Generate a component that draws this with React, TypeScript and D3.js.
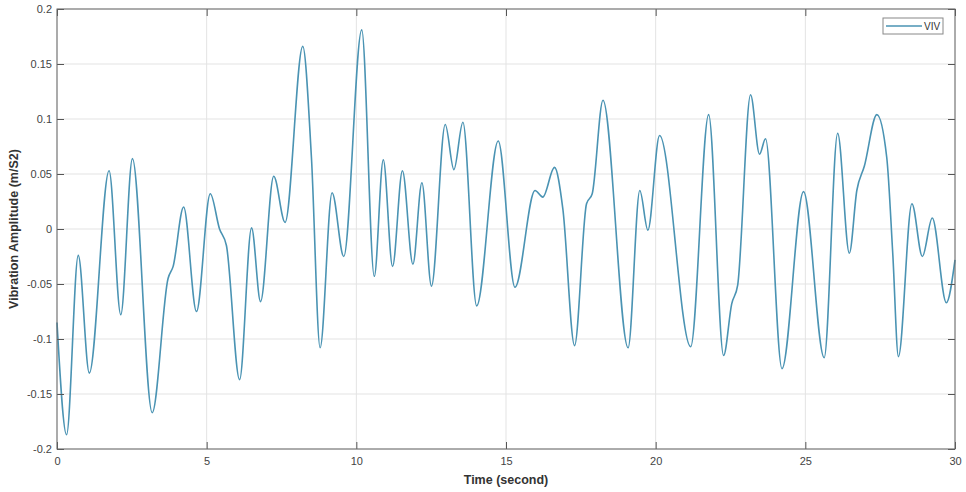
// VIV vibration amplitude over time, MATLAB-style line plot
import React, { useEffect, useRef } from 'react';
import * as d3 from 'd3';

const timeValues = [
  0.0, 0.32, 0.71, 1.08, 1.74, 2.13, 2.52, 3.18, 3.71, 3.88, 4.23, 4.66, 5.12, 5.43, 5.66,
  6.1, 6.5, 6.8, 7.24, 7.62, 8.21, 8.5, 8.79, 9.19, 9.58, 10.18, 10.6, 10.9, 11.21, 11.54,
  11.89, 12.19, 12.51, 12.97, 13.26, 13.56, 14.02, 14.74, 15.3, 15.97, 16.23, 16.62, 16.9,
  17.29, 17.69, 17.88, 18.24, 19.08, 19.47, 19.74, 20.13, 21.17, 21.77, 22.27, 22.54, 22.74,
  23.17, 23.47, 23.67, 24.22, 24.94, 25.63, 26.08, 26.47, 26.72, 26.97, 27.39, 27.72, 27.92,
  28.11, 28.56, 28.91, 29.24, 29.71, 30.0,
];

const amplitudeValues = [
  -0.085, -0.187, -0.024, -0.131, 0.053, -0.078, 0.064, -0.167, -0.045, -0.034, 0.02, -0.075,
  0.032, 0.0, -0.015, -0.137, 0.001, -0.066, 0.048, 0.006, 0.166, 0.065, -0.108, 0.033, -0.025,
  0.181, -0.043, 0.063, -0.034, 0.053, -0.032, 0.042, -0.052, 0.095, 0.054, 0.097, -0.07, 0.08,
  -0.053, 0.035, 0.029, 0.056, 0.018, -0.106, 0.023, 0.032, 0.117, -0.108, 0.035, -0.001, 0.085,
  -0.107, 0.104, -0.115, -0.068, -0.051, 0.122, 0.068, 0.082, -0.127, 0.034, -0.117, 0.087,
  -0.022, 0.035, 0.057, 0.104, 0.065, -0.022, -0.116, 0.023, -0.025, 0.01, -0.067, -0.028,
];

const xTicks = [0, 5, 10, 15, 20, 25, 30];
const xTickLabels = ['0', '5', '10', '15', '20', '25', '30'];
const yTicks = [-0.2, -0.15, -0.1, -0.05, 0, 0.05, 0.1, 0.15, 0.2];
const yTickLabels = ['-0.2', '-0.15', '-0.1', '-0.05', '0', '0.05', '0.1', '0.15', '0.2'];
const seriesName = 'VIV';

const App: React.FC = () => {
  const svgRef = useRef<SVGSVGElement>(null);

  useEffect(() => {
    const svg = d3.select(svgRef.current);
    svg.selectAll('*').remove();

    const width = 966;
    const height = 492;
    const margin = { top: 9, right: 11, bottom: 43, left: 57 };
    const font = 'Arial, "Liberation Sans", Helvetica, sans-serif';
    const lineColor = '#4a93b3';

    svg.attr('width', width).attr('height', height);

    const xScale = d3.scaleLinear().domain([0, 30]).range([margin.left, width - margin.right]);
    const yScale = d3.scaleLinear().domain([-0.2, 0.2]).range([height - margin.bottom, margin.top]);

    const x0 = margin.left;
    const x1 = width - margin.right;
    const y0 = margin.top;
    const y1 = height - margin.bottom;

    // background
    svg.append('rect').attr('x', x0).attr('y', y0).attr('width', x1 - x0).attr('height', y1 - y0).attr('fill', '#fff');

    // grid
    const grid = svg.append('g');
    xTicks.forEach((t) => {
      grid.append('line')
        .attr('x1', xScale(t)).attr('x2', xScale(t))
        .attr('y1', y0).attr('y2', y1)
        .attr('stroke', '#e3e3e3').attr('stroke-width', 1);
    });
    yTicks.forEach((t) => {
      grid.append('line')
        .attr('x1', x0).attr('x2', x1)
        .attr('y1', yScale(t)).attr('y2', yScale(t))
        .attr('stroke', '#e3e3e3').attr('stroke-width', 1);
    });

    // data line
    const line = d3
      .line<number>()
      .x((_, i) => xScale(timeValues[i]))
      .y((d) => yScale(d))
      .curve(d3.curveMonotoneX);

    svg.append('path')
      .datum(amplitudeValues)
      .attr('fill', 'none')
      .attr('stroke', lineColor)
      .attr('stroke-width', 1.6)
      .attr('stroke-linejoin', 'round')
      .attr('d', line);

    // axes (inward ticks on all four sides)
    const styleAxis = (g: d3.Selection<SVGGElement, unknown, null, undefined>) => {
      g.select('.domain').remove();
      g.selectAll('line').attr('stroke', '#555');
      g.selectAll('text')
        .attr('fill', '#444')
        .style('font-family', font)
        .style('font-size', '11px');
    };

    svg.append('g')
      .attr('transform', `translate(0, ${y1})`)
      .call(d3.axisBottom(xScale).tickValues(xTicks).tickSize(-7).tickPadding(8)
        .tickFormat((_, i) => xTickLabels[i]))
      .call(styleAxis);

    svg.append('g')
      .attr('transform', `translate(0, ${y0})`)
      .call(d3.axisTop(xScale).tickValues(xTicks).tickSize(-7).tickFormat(() => ''))
      .call(styleAxis);

    svg.append('g')
      .attr('transform', `translate(${x0}, 0)`)
      .call(d3.axisLeft(yScale).tickValues(yTicks).tickSize(-7).tickPadding(5)
        .tickFormat((_, i) => yTickLabels[i]))
      .call(styleAxis);

    svg.append('g')
      .attr('transform', `translate(${x1}, 0)`)
      .call(d3.axisRight(yScale).tickValues(yTicks).tickSize(-7).tickFormat(() => ''))
      .call(styleAxis);

    // box
    svg.append('rect')
      .attr('x', x0).attr('y', y0)
      .attr('width', x1 - x0).attr('height', y1 - y0)
      .attr('fill', 'none')
      .attr('stroke', '#666')
      .attr('stroke-width', 1);

    // axis titles
    svg.append('text')
      .attr('x', (x0 + x1) / 2)
      .attr('y', 484)
      .attr('text-anchor', 'middle')
      .attr('fill', '#333')
      .style('font-family', font)
      .style('font-size', '12.5px')
      .style('font-weight', 'bold')
      .text('Time (second)');

    svg.append('text')
      .attr('transform', `translate(18, ${(y0 + y1) / 2}) rotate(-90)`)
      .attr('text-anchor', 'middle')
      .attr('fill', '#333')
      .style('font-family', font)
      .style('font-size', '12.5px')
      .style('font-weight', 'bold')
      .text('Vibration Amplitude (m/S2)');

    // legend
    const legend = svg.append('g');
    legend.append('rect')
      .attr('x', 883).attr('y', 18)
      .attr('width', 60).attr('height', 16)
      .attr('fill', '#fff')
      .attr('stroke', '#888')
      .attr('stroke-width', 1);
    legend.append('line')
      .attr('x1', 886).attr('x2', 922)
      .attr('y1', 26).attr('y2', 26)
      .attr('stroke', lineColor)
      .attr('stroke-width', 1.3);
    legend.append('text')
      .attr('x', 924).attr('y', 29.5)
      .attr('fill', '#333')
      .style('font-family', font)
      .style('font-size', '10px')
      .text(seriesName);
  }, []);

  return (
    <div style={{ position: 'absolute', left: 0, top: 0, width: 966, height: 492, background: '#fff' }}>
      <svg ref={svgRef} style={{ display: 'block' }}></svg>
    </div>
  );
};

export default App;
